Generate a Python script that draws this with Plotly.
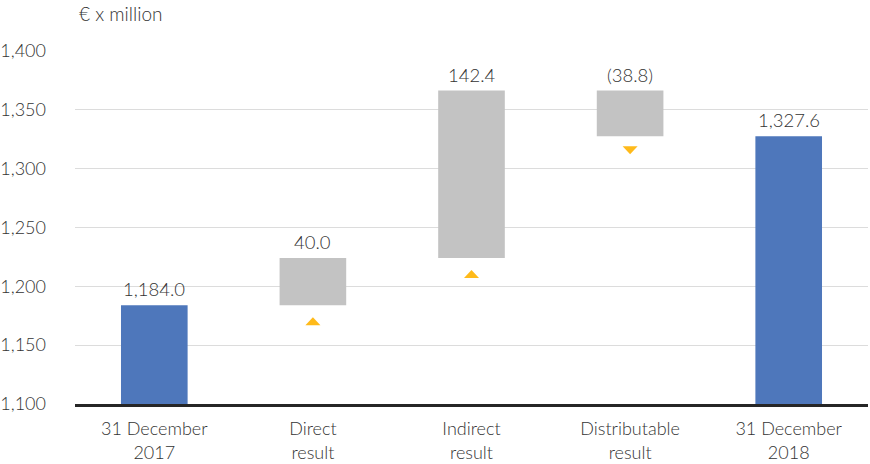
import plotly.graph_objects as go

# Equity bridge, € x million
categories = ["31 December<br>2017", "Direct<br>result", "Indirect<br>result",
              "Distributable<br>result", "31 December<br>2018"]
opening = 1184.0
changes = [40.0, 142.4, -38.8]
closing = 1327.6

BLUE = "#4E77BB"
GREY = "#C3C3C3"
ORANGE = "#FFBA1A"
TEXT = "#333333"
FONT = "Lato"

def fmt(v):
    s = f"{abs(v):,.1f}"
    return f"({s})" if v < 0 else s

# running totals for the floating bars
bases, level = [], opening
for c in changes:
    bases.append(level)
    level += c

x_tot = [categories[0], categories[-1]]
y_tot = [opening, closing]
x_chg = categories[1:-1]

fig = go.Figure()
fig.add_trace(go.Bar(x=x_tot, y=y_tot, marker_color=BLUE, marker_line_width=0,
                     hoverinfo="skip"))
fig.add_trace(go.Bar(x=x_chg, y=changes, base=bases, marker_color=GREY,
                     marker_line_width=0, hoverinfo="skip"))

label_font = dict(family=FONT, size=18.5, color=TEXT, weight=300)

annotations = []
# value labels above each bar
for x, v in zip(x_tot, y_tot):
    annotations.append(dict(x=x, y=v, text=fmt(v), showarrow=False,
                            yanchor="bottom", yshift=3, font=label_font))
shapes = []
for x, b, c in zip(x_chg, bases, changes):
    top = max(b, b + c)
    low = min(b, b + c)
    annotations.append(dict(x=x, y=top, text=fmt(c), showarrow=False,
                            yanchor="bottom", yshift=3, font=label_font))
    # direction marker below each change bar
    if c >= 0:
        path = "M -7.5,-20 L 7.5,-20 L 0,-12 Z"
    else:
        path = "M -7.5,-10 L 7.5,-10 L 0,-18 Z"
    shapes.append(dict(type="path", xref="x", yref="y", xsizemode="pixel",
                       ysizemode="pixel", xanchor=x, yanchor=low, path=path,
                       fillcolor=ORANGE, line=dict(width=0)))

annotations.append(dict(x=0, xref="paper", xanchor="left", xshift=2,
                        y=1, yref="paper", yanchor="bottom", yshift=24,
                        text="€ x million", showarrow=False,
                        font=dict(family=FONT, size=19, color=TEXT, weight=300)))

fig.update_layout(
    width=870, height=464,
    margin=dict(l=75, r=2, t=51, b=60, autoexpand=False),
    paper_bgcolor="white", plot_bgcolor="white",
    showlegend=False, barmode="overlay", bargap=0.58,
    annotations=annotations, shapes=shapes,
    font=dict(family=FONT, size=17, color=TEXT),
)
fig.update_xaxes(type="category", categoryorder="array",
                 categoryarray=categories, showgrid=False, showline=True,
                 linecolor="#262626", linewidth=2.5, ticks="",
                 automargin=False, ticklabelstandoff=7,
                 tickfont=dict(family=FONT, size=18, color=TEXT, weight=300))
fig.update_yaxes(range=[1100, 1400], dtick=50, tickformat=",",
                 showgrid=True, gridcolor="#DCDCDC", gridwidth=1,
                 zeroline=False, showline=False, ticks="",
                 automargin=False, ticklabelstandoff=28,
                 tickfont=dict(family=FONT, size=18, color=TEXT, weight=300))

fig.write_html("out.html")
